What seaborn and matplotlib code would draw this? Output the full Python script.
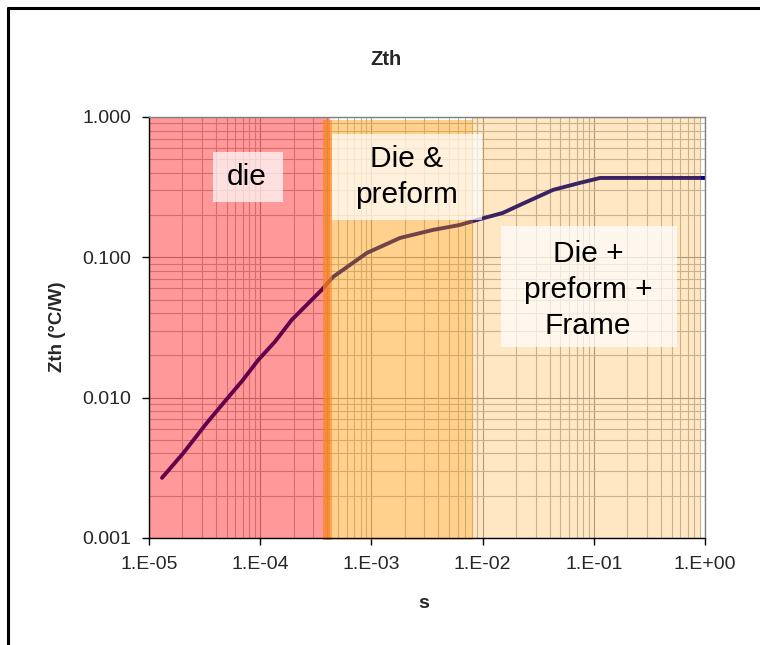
import numpy as np
import pandas as pd
import matplotlib.pyplot as plt
import matplotlib.ticker as mticker
from matplotlib.patches import Rectangle
from matplotlib.lines import Line2D
import seaborn as sns

# Zth curve
time_s = [1.31e-5, 2.03e-5, 3.30e-5, 4.66e-5, 7.00e-5, 9.62e-5, 1.36e-4,
          1.92e-4, 2.71e-4, 3.57e-4, 4.52e-4, 9.12e-4, 1.81e-3, 3.58e-3,
          6.26e-3, 8.91e-3, 1.52e-2, 2.17e-2, 4.30e-2, 7.51e-2, 1.14e-1,
          1.72e-1, 1.0]
zth = [0.00268, 0.00401, 0.00657, 0.00912, 0.01336, 0.01855, 0.02505,
       0.03576, 0.0470, 0.0585, 0.0724, 0.1074, 0.1373, 0.1566,
       0.170, 0.1845, 0.207, 0.236, 0.302, 0.339, 0.3675,
       0.3675, 0.3675]

# shaded zones (time edges in s)
zone_die = (1e-5, 4.25e-4)
zone_edge = (3.67e-4, 4.43e-4)
zone_preform = (4.43e-4, 8.2e-3)
zone_frame = (8.2e-3, 0.92)

x_ticks = [1e-5, 1e-4, 1e-3, 1e-2, 1e-1, 1e0]
y_ticks = [0.001, 0.01, 0.1, 1.0]

df = pd.DataFrame({'s': time_s, 'Zth': zth})

sns.set_theme(style='white')
plt.rcParams['font.family'] = ['Liberation Sans', 'DejaVu Sans']

fig = plt.figure(figsize=(7.6, 6.45), dpi=100)
ax = fig.add_axes([0.196, 0.166, 0.7316, 0.6527])

sns.lineplot(data=df, x='s', y='Zth', ax=ax, color='#000080', linewidth=2.8,
             sort=False, estimator=None, zorder=2)
ax.set_xscale('log')
ax.set_yscale('log')
ax.set_xlim(1e-5, 1.0)
ax.set_ylim(0.001, 1.0)

# grid, major + minor
ax.set_axisbelow(True)
ax.grid(True, which='major', color='#9a9a9a', linewidth=0.8)
ax.grid(True, which='minor', color='#b8b8b8', linewidth=0.8)

# translucent zones drawn over the curve (like the Excel shapes)
ax.axvspan(*zone_die, color='#FF0000', alpha=0.4, lw=0, zorder=3)
ax.axvspan(*zone_preform, ymin=-0.005, ymax=0.993, color='#FF9900', alpha=0.45,
           lw=0, zorder=3, clip_on=False)
ax.axvspan(*zone_edge, ymin=-0.005, ymax=0.993, color='#F7891F', alpha=0.75,
           lw=0, zorder=3, clip_on=False)
ax.axvspan(*zone_frame, color='#FF9900', alpha=0.23, lw=0, zorder=3)

# label boxes
boxes = [
    ((0.115, 0.798), 0.126, 0.119, 'die', (0.176, 0.857)),
    ((0.329, 0.755), 0.270, 0.205, 'Die &\npreform', (0.464, 0.857)),
    ((0.633, 0.454), 0.317, 0.287, 'Die +\npreform +\nFrame', (0.790, 0.589)),
]
for (x0, y0), w, h, label, (tx, ty) in boxes:
    ax.add_patch(Rectangle((x0, y0), w, h, transform=ax.transAxes,
                           facecolor='white', alpha=0.7, edgecolor='none', zorder=4))
    ax.text(tx, ty, label, transform=ax.transAxes, ha='center', va='center',
            fontsize=21.5, linespacing=1.35, color='black', zorder=5)

ax.xaxis.set_major_locator(mticker.FixedLocator(x_ticks))
ax.yaxis.set_major_locator(mticker.FixedLocator(y_ticks))
ax.xaxis.set_major_formatter(mticker.FuncFormatter(
    lambda v, p: '1.E{:+03d}'.format(int(round(np.log10(v))))))
ax.yaxis.set_major_formatter(mticker.FuncFormatter(lambda v, p: '{:.3f}'.format(v)))
ax.tick_params(axis='both', which='major', direction='out', length=5, width=1,
               color='black', labelsize=14, pad=8, left=True, bottom=True)
ax.tick_params(axis='both', which='minor', length=0)

for side in ['left', 'bottom']:
    ax.spines[side].set_color('black')
    ax.spines[side].set_linewidth(1.0)
for side in ['top', 'right']:
    ax.spines[side].set_color('#808080')
    ax.spines[side].set_linewidth(1.0)
for sp in ax.spines.values():
    sp.set_zorder(6)

ax.set_xlabel('')
ax.set_ylabel('')
fig.text(0.508, 0.907, 'Zth', ha='center', va='center', fontsize=14.5, fontweight='bold')
fig.text(0.075, 0.493, 'Zth (°C/W)', ha='center', va='center', rotation=90,
         fontsize=13.5, fontweight='bold')
fig.text(0.558, 0.065, 's', ha='center', va='center', fontsize=14, fontweight='bold')

# outer frame of the figure box (left and top edges visible)
fig.add_artist(Line2D([0.011, 0.011], [0.0, 0.988], color='black', lw=2.2,
                      transform=fig.transFigure))
fig.add_artist(Line2D([0.011, 1.0], [0.988, 0.988], color='black', lw=2.2,
                      transform=fig.transFigure))

fig.savefig('out.png', dpi=100)
